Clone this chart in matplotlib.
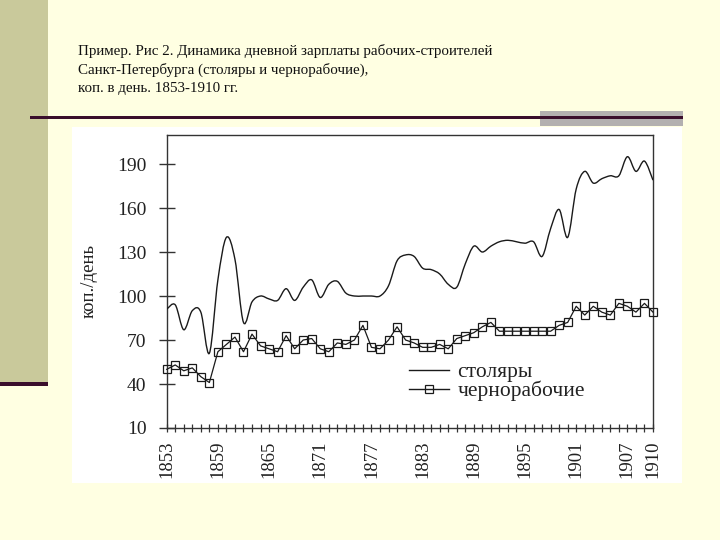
import numpy as np
import matplotlib
matplotlib.use('Agg')
import matplotlib.pyplot as plt
from matplotlib.path import Path
from matplotlib.patches import PathPatch, Rectangle
from matplotlib.lines import Line2D

# ---------------- data ----------------
years = list(range(1853, 1911))
carpenters = [91, 94, 77, 90, 89, 61, 111, 140, 125, 82,
              96, 100, 98, 97, 105, 97, 106, 111, 99, 108,
              110, 102, 100, 100, 100, 100, 107, 124, 128, 127,
              119, 118, 115, 108, 106, 122, 134, 130, 134, 137,
              138, 137, 136, 137, 127, 146, 159, 140, 173, 185,
              177, 180, 182, 182, 195, 185, 192, 179]
laborers = [50, 53, 49, 51, 45, 41, 62, 67, 72, 62,
            74, 66, 64, 62, 73, 64, 70, 71, 64, 62,
            68, 67, 70, 80, 65, 64, 70, 79, 70, 68,
            65, 65, 67, 64, 71, 73, 75, 79, 82, 76,
            76, 76, 76, 76, 76, 76, 80, 82, 93, 87,
            93, 89, 87, 95, 93, 89, 95, 89]
ytick_values = [10, 40, 70, 100, 130, 160, 190]
xtick_labels = [1853, 1859, 1865, 1871, 1877, 1883, 1889, 1895, 1901, 1907, 1910]
title_lines = ["Пример. Рис 2. Динамика дневной зарплаты рабочих-строителей",
               "Санкт-Петербурга (столяры и чернорабочие),",
               "коп. в день. 1853-1910 гг."]
ylabel_text = "коп./день"
legend_labels = ["столяры", "чернорабочие"]

W, H = 720.0, 540.0
SERIF = ['Liberation Serif', 'DejaVu Serif']

fig = plt.figure(figsize=(7.2, 5.4), dpi=100)
fig.patch.set_facecolor('#FFFFE2')


def frect(x0, y0, x1, y1):
    """pixel box (top-left origin) -> figure fraction rect"""
    return (x0 / W, 1 - y1 / H, (x1 - x0) / W, (y1 - y0) / H)


def add_box(x0, y0, x1, y1, color, z=0):
    l, b, w, h = frect(x0, y0, x1, y1)
    fig.patches.append(Rectangle((l, b), w, h, transform=fig.transFigure,
                                 facecolor=color, edgecolor='none', zorder=z))


# slide decorations
add_box(0, 0, 48, 382, '#C9C99B')
add_box(0, 382, 48, 386, '#3A0E2C')
add_box(540, 111, 683, 126, '#B3B0B0')
add_box(30, 116, 683, 118.5, '#3A0E2C', z=1)
add_box(72, 126.5, 682, 483, '#FFFFFF')

# title
for i, line in enumerate(title_lines):
    fig.text(78 / W, 1 - (55 + 18.5 * i) / H, line, family=SERIF,
             fontsize=10.8, color='#111111', va='baseline', ha='left')

# ---------------- axes ----------------
ax = fig.add_axes(frect(166.7, 134.7, 653, 428))
ax.set_zorder(5)
ax.set_facecolor('white')
ax.set_xlim(1853, 1910)
ax.set_ylim(10, 210)


def smooth_path(xs, ys):
    xs = np.asarray(xs, float)
    ys = np.asarray(ys, float)
    pts = np.column_stack([xs, ys])
    n = len(pts)
    verts = [pts[0]]
    codes = [Path.MOVETO]
    for i in range(n - 1):
        p0 = pts[i - 1] if i > 0 else pts[i]
        p1 = pts[i]
        p2 = pts[i + 1]
        p3 = pts[i + 2] if i + 2 < n else pts[i + 1]
        c1 = p1 + (p2 - p0) / 6.0
        c2 = p2 - (p3 - p1) / 6.0
        verts += [c1, c2, p2]
        codes += [Path.CURVE4] * 3
    return Path(verts, codes)


ax.add_patch(PathPatch(smooth_path(years, carpenters), facecolor='none',
                       edgecolor='#1a1a1a', lw=1.0, zorder=3))
ax.plot(years, laborers, color='#1a1a1a', lw=0.9, marker='s', markersize=5.8,
        markerfacecolor='none', markeredgecolor='#1a1a1a', markeredgewidth=0.9,
        zorder=4, clip_on=False)

for s in ax.spines.values():
    s.set_color('#333333')
    s.set_linewidth(1.0)

ax.set_yticks(ytick_values)
ax.set_yticklabels([str(v) for v in ytick_values], family=SERIF, fontsize=14,
                   color='#222222')
ax.set_xticks(years)
ax.set_xticklabels([str(y) if y in xtick_labels else '' for y in years],
                   rotation=90, family=SERIF, fontsize=13.5, color='#222222')
ax.tick_params(axis='y', direction='inout', length=11, width=1.0,
               color='#333333', pad=9)
ax.tick_params(axis='x', direction='inout', length=5.8, width=0.9,
               color='#333333', pad=6)
ax.set_ylabel(ylabel_text, family=SERIF, fontsize=13.5, color='#222222',
              labelpad=14)

handles = [Line2D([], [], color='#1a1a1a', lw=1.0),
           Line2D([], [], color='#1a1a1a', lw=1.0, marker='s', markersize=5.5,
                  markerfacecolor='none', markeredgecolor='#1a1a1a',
                  markeredgewidth=0.9)]
leg = ax.legend(handles, legend_labels, loc='upper left',
                bbox_to_anchor=(409 / W, 1 - 362 / H),
                bbox_transform=fig.transFigure, frameon=False,
                prop={'family': SERIF, 'size': 15.5}, handlelength=1.85,
                handletextpad=0.4, labelspacing=-0.05, borderpad=0,
                borderaxespad=0)
for t in leg.get_texts():
    t.set_color('#222222')

fig.savefig('out.png', dpi=100, facecolor=fig.get_facecolor())
